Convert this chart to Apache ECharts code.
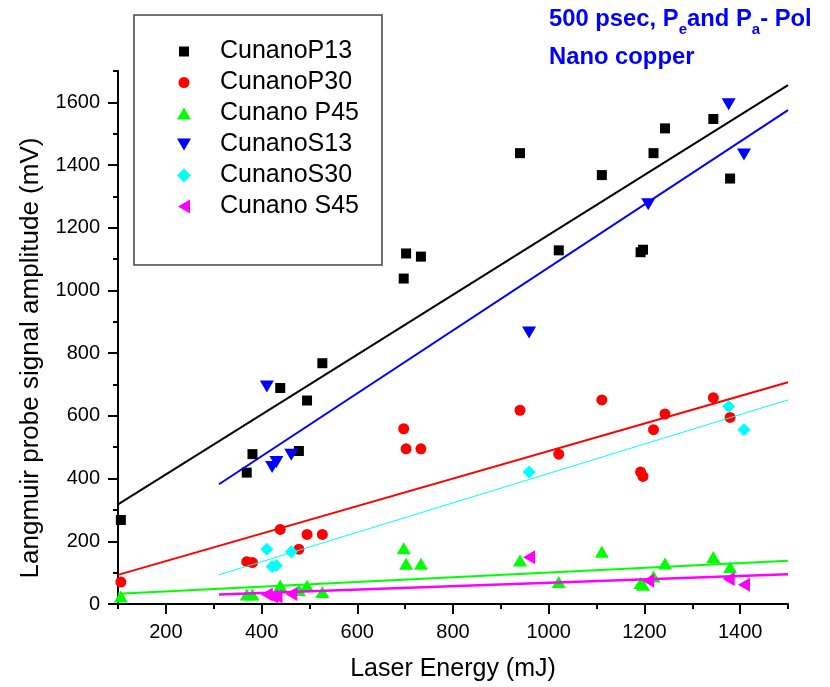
<!DOCTYPE html>
<html><head><meta charset="utf-8">
<script src="https://cdn.jsdelivr.net/npm/echarts@6/dist/echarts.min.js"></script>
<style>html,body{margin:0;padding:0;background:#fff}#c{width:830px;height:687px}</style>
</head><body><div id="c"></div>
<script>
// ---- data ----
const energyP = [106,369,381,439,478,495,527,697,702,733,940,1021,1111,1192,1197,1219,1243,1344,1379];
const ampP13  = [268,419,478,689,488,649,768,1038,1118,1108,1438,1128,1368,1122,1130,1438,1517,1547,1357];
const ampP30  = [70,135,132,238,175,222,222,559,495,495,618,478,651,421,407,556,606,658,595];
const ampP45  = [24,30,30,59,45,58,38,178,128,128,139,70,167,67,61,88,129,150,117];
const energyS = [411,422,431,462,959,1208,1376,1408];
const ampS13  = [694,437,453,476,866,1275,1594,1434];
const ampS30  = [175,120,123,167,421,null,630,556];
const ampS45  = [30,24,24,32,149,74,80,61];
// fitted lines (end points)
const fitP13 = [[100,318],[1500,1655]];
const fitS13 = [[311,382],[1500,1575]];
const fitP30 = [[100,93],[1500,707]];
const fitS30 = [[311,93],[1500,651]];
const fitP45 = [[100,33],[1500,138]];
const fitS45 = [[311,30],[1500,95]];
const seriesNames = ['CunanoP13','CunanoP30','Cunano P45','CunanoS13','CunanoS30','Cunano S45'];
const xMajorTicks = [200,400,600,800,1000,1200,1400];
const xMinorTicks = [100,300,500,700,900,1100,1300,1500];
const yMajorTicks = [0,200,400,600,800,1000,1200,1400,1600];
const yMinorTicks = [100,300,500,700,900,1100,1300,1500,1700];

const FONT = "'Liberation Sans', Arial, Helvetica, sans-serif";
const DOWN = 'path://M0,0L14,0L7,12Z';
const LEFT = 'path://M0,7L12,0L12,14Z';

function pairs(xs, ys){ const out=[]; for(let i=0;i<xs.length;i++){ if(ys[i]!=null) out.push([xs[i],ys[i]]); } return out; }
const plain = v => String(v);

const chart = echarts.init(document.getElementById('c'), null, {renderer:'canvas'});

function scatter(name, data, color, symbol, size){
  return {type:'scatter', name:name, data:data, symbol:symbol, symbolSize:size,
    itemStyle:{color:color, opacity:1}, z:2, emphasis:{disabled:true}};
}
function fit(name, data, color, width){
  return {type:'line', name:name, data:data, showSymbol:false, symbol:'none', z:3,
    lineStyle:{color:color, width:width}, emphasis:{disabled:true}};
}

const option = {
  animation:false,
  backgroundColor:'#fff',
  grid:{left:118, right:42, top:71, bottom:81, containLabel:false},
  legend:{
    show:true, orient:'vertical', left:177, top:39, padding:0,
    itemWidth:14, itemHeight:14, itemGap:6, selectedMode:false,
    textStyle:{fontSize:25, color:'#000', fontFamily:FONT, padding:[0,0,0,24]},
    data:[
      {name:seriesNames[0], icon:'path://M0,0M14,14M2,2L12,2L12,12L2,12Z'},
      {name:seriesNames[1], icon:'path://M0,0M14,14M1.5,7A5.5,5.5,0,1,1,12.5,7A5.5,5.5,0,1,1,1.5,7Z'},
      {name:seriesNames[2], icon:'path://M0,0M14,14M0,13L7,1L14,13Z'},
      {name:seriesNames[3], icon:'path://M0,0M14,14M0,1L14,1L7,13Z'},
      {name:seriesNames[4], icon:'path://M0,0M14,14M7,0L14,7L7,14L0,7Z'},
      {name:seriesNames[5], icon:'path://M0,0M14,14M1,7L13,0L13,14Z'}
    ]
  },
  xAxis:[{
    type:'value', min:100, max:1500, position:'bottom',
    axisLine:{show:true, onZero:false, lineStyle:{color:'#000', width:2}},
    axisTick:{show:true, inside:false, length:10, lineStyle:{color:'#000', width:2}, customValues:xMajorTicks},
    axisLabel:{show:true, customValues:xMajorTicks, formatter:plain, margin:18, color:'#000', fontSize:20, fontFamily:FONT},
    splitLine:{show:false},
    name:'Laser Energy (mJ)', nameLocation:'middle', nameGap:53,
    nameTextStyle:{fontSize:25, color:'#000', fontFamily:FONT}
  },{
    type:'value', min:100, max:1500, position:'bottom',
    axisLine:{show:false, onZero:false},
    axisTick:{show:true, inside:false, length:5, lineStyle:{color:'#000', width:2}, customValues:xMinorTicks},
    axisLabel:{show:false}, splitLine:{show:false}
  }],
  yAxis:[{
    type:'value', min:0, max:1700, position:'left',
    axisLine:{show:true, onZero:false, lineStyle:{color:'#000', width:2}},
    axisTick:{show:true, inside:false, length:10, lineStyle:{color:'#000', width:2}, customValues:yMajorTicks},
    axisLabel:{show:true, customValues:yMajorTicks, formatter:plain, margin:18, color:'#000', fontSize:20, fontFamily:FONT},
    splitLine:{show:false}
  },{
    type:'value', min:0, max:1700, position:'left',
    axisLine:{show:false, onZero:false},
    axisTick:{show:true, inside:false, length:5, lineStyle:{color:'#000', width:2}, customValues:yMinorTicks},
    axisLabel:{show:false}, splitLine:{show:false}
  }],
  graphic:[
    {type:'rect', shape:{x:134, y:15, width:248, height:250}, style:{fill:'none', stroke:'#444', lineWidth:1.5}, z:10},
    {type:'text', x:31, y:358, rotation:Math.PI/2, z:10,
      style:{text:'Langmuir probe signal amplitude (mV)', fontSize:26, fontFamily:FONT, fill:'#000', align:'center', verticalAlign:'middle'}},
    {type:'text', x:549, y:19.5, z:10,
      style:{text:'{m|500 psec, P}{s|e}{m|and P}{s|a}{m|- Pol}', align:'left', verticalAlign:'middle',
        rich:{
          m:{fontSize:23.8, fontWeight:'bold', fill:'#0000ff', fontFamily:FONT},
          s:{fontSize:15, fontWeight:'bold', fill:'#0000ff', fontFamily:FONT, padding:[20,0,0,0]}
        }}},
    {type:'text', x:549, y:57, z:10,
      style:{text:'Nano copper', fontSize:23.8, fontWeight:'bold', fill:'#0000ff', fontFamily:FONT, align:'left', verticalAlign:'middle'}}
  ],
  series:[
    scatter(seriesNames[0], pairs(energyP, ampP13), '#000000', 'rect', 10),
    scatter(seriesNames[1], pairs(energyP, ampP30), '#ff0000', 'circle', 11),
    scatter(seriesNames[2], pairs(energyP, ampP45), '#00ff00', 'triangle', [14,12]),
    scatter(seriesNames[3], pairs(energyS, ampS13), '#0000ff', DOWN, [14,12]),
    scatter(seriesNames[4], pairs(energyS, ampS30), '#00ffff', 'diamond', [13,13]),
    scatter(seriesNames[5], pairs(energyS, ampS45), '#ff00ff', LEFT, [12,14]),
    fit('fitP13', fitP13, '#000000', 2),
    fit('fitS13', fitS13, '#0000ff', 2),
    fit('fitP30', fitP30, '#ff0000', 2),
    fit('fitS30', fitS30, '#00ffff', 1),
    fit('fitP45', fitP45, '#00ff00', 2),
    fit('fitS45', fitS45, '#ff00ff', 2.5)
  ]
};
chart.setOption(option);
</script>
</body></html>
